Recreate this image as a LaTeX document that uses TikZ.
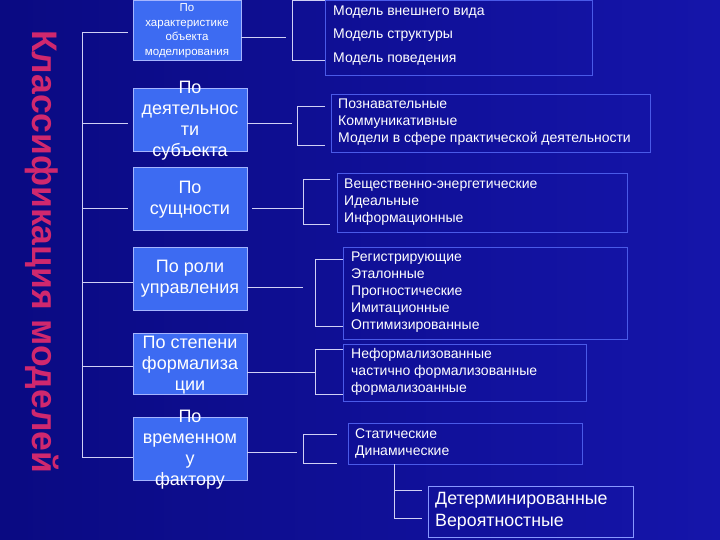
\documentclass[tikz,border=0pt]{standalone}
\usepackage{fontspec}
\setmainfont{Liberation Sans}
\definecolor{bgl}{HTML}{0A0A82}
\definecolor{bgr}{HTML}{1515AA}
\definecolor{boxfill}{HTML}{3D6BF2}
\definecolor{boxedge}{HTML}{A5B5FF}
\definecolor{redge}{HTML}{4A5AE8}
\definecolor{redge2}{HTML}{8898FF}
\definecolor{linec}{HTML}{D0D0F5}
\definecolor{titlec}{HTML}{D0286E}
\begin{document}
\begin{tikzpicture}[x=1pt,y=-1pt,
  lbox/.style={draw=boxedge, fill=boxfill, line width=0.8pt, anchor=north west, inner sep=0, outer sep=0},
  rbox/.style={draw=redge, line width=0.8pt, anchor=north west, inner sep=0, outer sep=0},
  conn/.style={draw=linec, line width=0.9pt},
  ltext/.style={text=white, align=center, inner sep=0, font=\fontsize{18}{21}\selectfont},
  rtext/.style={text=white, align=left, anchor=west, inner sep=0, font=\fontsize{14}{17}\selectfont},
]
\fill[left color=bgl, right color=bgr] (0,0) rectangle (720,540);
\useasboundingbox (0,0) rectangle (720,540);

% title
\node[rotate=-90, anchor=base, inner sep=0, text=titlec,
      font=\fontsize{35.5}{35.5}\selectfont\bfseries] (title) at (32,251.5) {Классификация моделей};

% left boxes
\node[lbox, minimum width=108pt, minimum height=60pt] (L1) at (133,0.5) {};
\node[lbox, minimum width=114pt, minimum height=63pt] (L2) at (133,88) {};
\node[lbox, minimum width=114pt, minimum height=63pt] (L3) at (133,167) {};
\node[lbox, minimum width=114pt, minimum height=63pt] (L4) at (133,247) {};
\node[lbox, minimum width=114pt, minimum height=61pt] (L5) at (133,333) {};
\node[lbox, minimum width=114pt, minimum height=63pt] (L6) at (133,417) {};

\node[ltext, font=\fontsize{11.5}{14.8}\selectfont] (L1t) at (187,30.8) {По\\характеристике\\объекта\\моделирования};
\node[ltext] (L2t) at (190,120.5) {По\\деятельнос\\ти\\субъекта};
\node[ltext] (L3t) at (190,199.5) {По\\сущности};
\node[ltext] (L4t) at (190,279) {По роли\\управления};
\node[ltext] (L5t) at (190,365) {По степени\\формализа\\ции};
\node[ltext] (L6t) at (190,450) {По\\временном\\у\\фактору};

% right boxes
\node[rbox, minimum width=267pt, minimum height=75pt] (R1) at (325,0.5) {};
\node[rbox, minimum width=319pt, minimum height=58pt] (R2) at (331,94) {};
\node[rbox, minimum width=290pt, minimum height=59pt] (R3) at (337,173) {};
\node[rbox, minimum width=284pt, minimum height=92pt] (R4) at (343,247) {};
\node[rbox, minimum width=243pt, minimum height=57pt] (R5) at (343,344) {};
\node[rbox, minimum width=234pt, minimum height=41pt] (R6) at (348,423) {};
\node[rbox, draw=redge2, minimum width=205pt, minimum height=51pt] (R7) at (428,486) {};

\node[rtext, font=\fontsize{14}{23.5}\selectfont] (R1t) at (333,35.5) {Модель внешнего вида\\Модель структуры\\Модель поведения};
\node[rtext] (R2t) at (338,122) {Познавательные\\Коммуникативные\\Модели в сфере практической деятельности};
\node[rtext] (R3t) at (344,202) {Вещественно-энергетические\\Идеальные\\Информационные};
\node[rtext] (R4t) at (351,292.5) {Регистрирующие\\Эталонные\\Прогностические\\Имитационные\\Оптимизированные};
\node[rtext] (R5t) at (351,372) {Неформализованные\\частично формализованные\\формализоанные};
\node[rtext] (R6t) at (355,443.5) {Статические\\Динамические};
\node[rtext, font=\fontsize{17.8}{22}\selectfont] (R7t) at (435,511) {Детерминированные\\Вероятностные};

% left spine
\coordinate (s1) at (82,32);
\coordinate (s2) at (82,123);
\coordinate (s3) at (82,208);
\coordinate (s4) at (82,282);
\coordinate (s5) at (82,366);
\coordinate (s6) at (82,457);
\coordinate (e1) at (128,32);
\coordinate (e2) at (128,123);
\coordinate (e3) at (128,208);
\draw[conn] (s1) -- (s6);
\draw[conn] (s1) -- (e1);
\draw[conn] (s2) -- (e2);
\draw[conn] (s3) -- (e3);
\draw[conn] (s4) -- (s4 -| L4.west);
\draw[conn] (s5) -- (s5 -| L5.west);
\draw[conn] (s6) -- (s6 -| L6.west);

% group 1
\coordinate (a1) at (241,37); \coordinate (b1) at (286,37);
\coordinate (t1) at (292,0.5); \coordinate (u1) at (292,60);
\draw[conn] (a1) -- (b1);
\draw[conn] (t1 -| R1.west) -- (t1) -- (u1) -- (u1 -| R1.west);
% group 2
\coordinate (a2) at (247,123); \coordinate (b2) at (292,123);
\coordinate (t2) at (297,106); \coordinate (u2) at (297,145);
\coordinate (t2e) at (325,106); \coordinate (u2e) at (325,145);
\draw[conn] (a2) -- (b2);
\draw[conn] (t2e) -- (t2) -- (u2) -- (u2e);
% group 3
\coordinate (a3) at (252,208); \coordinate (b3) at (303,208);
\coordinate (t3) at (303,179); \coordinate (u3) at (303,224);
\coordinate (t3e) at (330,179); \coordinate (u3e) at (330,224);
\draw[conn] (a3) -- (b3);
\draw[conn] (t3e) -- (t3) -- (u3) -- (u3e);
% group 4
\coordinate (a4) at (247,287); \coordinate (b4) at (303,287);
\coordinate (t4) at (315,259); \coordinate (u4) at (315,326);
\draw[conn] (a4) -- (b4);
\draw[conn] (t4 -| R4.west) -- (t4) -- (u4) -- (u4 -| R4.west);
% group 5
\coordinate (a5) at (247,372); \coordinate (b5) at (315,372);
\coordinate (t5) at (315,349); \coordinate (u5) at (315,394);
\draw[conn] (a5) -- (b5);
\draw[conn] (t5 -| R5.west) -- (t5) -- (u5) -- (u5 -| R5.west);
% group 6
\coordinate (a6) at (247,452); \coordinate (b6) at (297,452);
\coordinate (t6) at (303,434); \coordinate (u6) at (303,463);
\coordinate (t6e) at (337,434); \coordinate (u6e) at (337,463);
\draw[conn] (a6) -- (b6);
\draw[conn] (t6e) -- (t6) -- (u6) -- (u6e);
% sub group
\coordinate (d0) at (394,464); \coordinate (d1) at (394,490); \coordinate (d2) at (394,518);
\coordinate (d1e) at (422,490); \coordinate (d2e) at (422,518);
\draw[conn] (R6.south -| d0) -- (d2) -- (d2e);
\draw[conn] (d1) -- (d1e);
\end{tikzpicture}
\end{document}
